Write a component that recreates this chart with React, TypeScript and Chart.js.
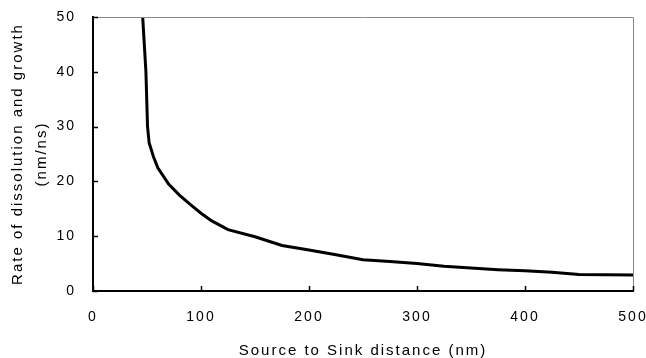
import React, { useEffect, useRef } from "react";
import { Chart, registerables } from "chart.js";

Chart.register(...registerables);

// Source-to-sink distance (nm)
const distance = [46, 47.5, 49, 50.5, 52, 56, 60, 70, 80, 90, 100, 110, 125, 150, 175, 200, 225, 250, 275, 300, 325, 350, 375, 400, 425, 450, 475, 500];
// Rate of dissolution and growth (nm/ns)
const rate = [50, 45, 40, 30, 27, 24.5, 22.5, 19.5, 17.5, 15.8, 14.2, 12.8, 11.2, 9.9, 8.3, 7.5, 6.6, 5.7, 5.4, 5.0, 4.5, 4.2, 3.9, 3.7, 3.4, 3.0, 2.95, 2.9];

const xTicks = [0, 100, 200, 300, 400, 500];
const yTicks = [0, 10, 20, 30, 40, 50];

const xTitle = "Source to Sink distance (nm)";
const yTitle = ["Rate of dissolution and growth", "(nm/ns)"];

const FONT = "'Liberation Sans', Arial, sans-serif";

// Wide letter spacing for all text on the canvas
const spacingPlugin = {
  id: "spacing",
  beforeDraw(chart: any) {
    chart.ctx.letterSpacing = "2px";
  },
};

// Frame: grey top/right edges plus short inward tick marks
const framePlugin = {
  id: "frame",
  afterDraw(chart: any) {
    const { ctx, chartArea } = chart;
    const { left, right, top, bottom } = chartArea;
    ctx.save();
    ctx.strokeStyle = "#888888";
    ctx.lineWidth = 1;
    ctx.beginPath();
    ctx.moveTo(left, top + 0.5);
    ctx.lineTo(right + 0.5, top + 0.5);
    ctx.lineTo(right + 0.5, bottom);
    ctx.stroke();

    ctx.strokeStyle = "#000000";
    ctx.lineWidth = 1.5;
    const xs = chart.scales.x;
    const ys = chart.scales.y;
    ctx.beginPath();
    xTicks.forEach((v) => {
      const px = Math.round(xs.getPixelForValue(v)) + 0.5;
      ctx.moveTo(px, bottom);
      ctx.lineTo(px, bottom - 5);
    });
    yTicks.forEach((v) => {
      const py = Math.round(ys.getPixelForValue(v)) + 0.5;
      ctx.moveTo(left, py);
      ctx.lineTo(left + 5, py);
    });
    ctx.stroke();
    ctx.restore();
  },
};

export default function App() {
  const ref = useRef<HTMLCanvasElement | null>(null);

  useEffect(() => {
    if (!ref.current) return;
    const chart = new Chart(ref.current, {
      type: "line",
      data: {
        datasets: [
          {
            data: distance.map((d, i) => ({ x: d, y: rate[i] })),
            borderColor: "#000000",
            borderWidth: 3,
            pointRadius: 0,
            tension: 0,
            fill: false,
          },
        ],
      },
      options: {
        responsive: false,
        animation: false,
        layout: { padding: { top: 17, right: 13, left: 0, bottom: 0 } },
        plugins: {
          legend: { display: false },
          tooltip: { enabled: false },
        },
        scales: {
          x: {
            type: "linear",
            min: 0,
            max: 500,
            afterBuildTicks: (s: any) => {
              s.ticks = xTicks.map((v) => ({ value: v }));
            },
            afterFit: (s: any) => {
              s.height = 67;
              s.paddingLeft = 0;
              s.paddingRight = 0;
            },
            grid: { display: false, drawTicks: false },
            border: { display: true, color: "#000000", width: 2 },
            ticks: {
              color: "#000000",
              padding: 18,
              font: { family: FONT, size: 14 },
              maxRotation: 0,
            },
            title: {
              display: true,
              text: xTitle,
              color: "#000000",
              font: { family: FONT, size: 15, lineHeight: 1 },
              padding: { top: 0, bottom: 0 },
            },
          },
          y: {
            type: "linear",
            min: 0,
            max: 50,
            afterBuildTicks: (s: any) => {
              s.ticks = yTicks.map((v) => ({ value: v }));
            },
            afterFit: (s: any) => {
              s.width = 93;
              s.paddingTop = 0;
              s.paddingBottom = 0;
            },
            grid: { display: false, drawTicks: false },
            border: { display: true, color: "#000000", width: 2 },
            ticks: {
              color: "#000000",
              padding: 17,
              font: { family: FONT, size: 14 },
            },
            title: {
              display: true,
              text: yTitle,
              color: "#000000",
              font: { family: FONT, size: 15, lineHeight: 1.6 },
              padding: { top: 6, bottom: 0 },
            },
          },
        },
      },
      plugins: [spacingPlugin, framePlugin],
    });
    return () => chart.destroy();
  }, []);

  return (
    <div style={{ position: "fixed", left: 0, top: 0, width: 646, height: 358, background: "#ffffff" }}>
      <canvas ref={ref} width={646} height={358} style={{ width: 646, height: 358, display: "block" }} />
    </div>
  );
}
